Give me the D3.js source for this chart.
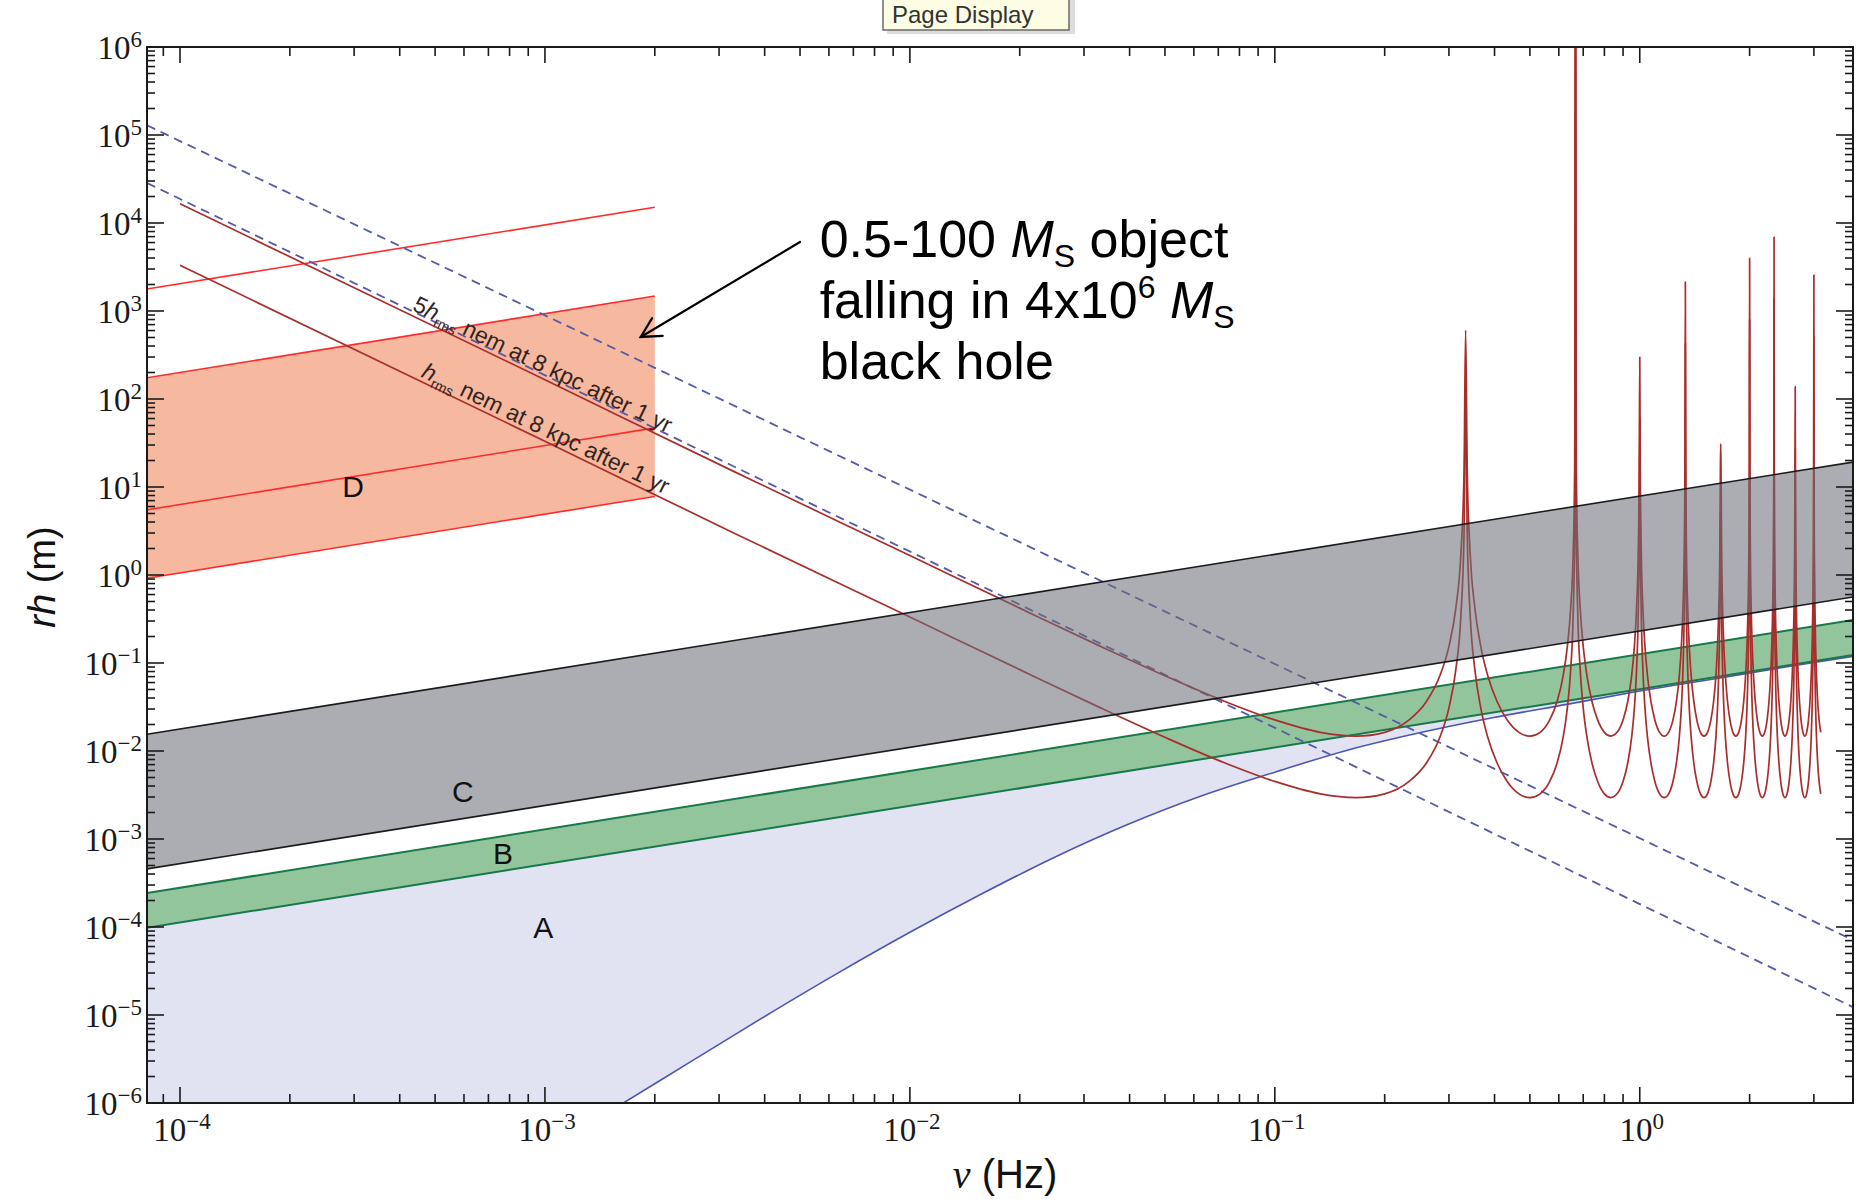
<!DOCTYPE html>
<html>
<head>
<meta charset="utf-8">
<title>rh versus frequency</title>
<script src="https://cdn.jsdelivr.net/npm/d3@7/dist/d3.min.js"></script>
<style>
  html, body { margin: 0; padding: 0; background: #ffffff; }
  svg { display: block; }
</style>
</head>
<body>
<svg id="chart" width="1866" height="1199"></svg>
<script>
// ---------------- data ----------------
// plotted ranges
const nuExtent = [8.12e-5, 3.84];      // Hz
const rhExtent = [1e-6, 1e6];          // m

// tick labels (powers of ten)
const xMajorTicks  = [1e-4, 1e-3, 1e-2, 1e-1, 1];
const xMajorLabels = ["\u22124", "\u22123", "\u22122", "\u22121", "0"];
const yMajorTicks  = [1e-6, 1e-5, 1e-4, 1e-3, 1e-2, 1e-1, 1, 1e1, 1e2, 1e3, 1e4, 1e5, 1e6];
const yMajorLabels = ["\u22126", "\u22125", "\u22124", "\u22123", "\u22122", "\u22121", "0", "1", "2", "3", "4", "5", "6"];

// band D: inspiral tracks, value at the left edge and at 2 mHz
const dTrackNu = [8.12e-5, 2.0e-3];
const dTrack1  = [0.92, 7.8];
const dTrack2  = [5.5, 47];
const dTrack3  = [174, 1480];
const dTrack4  = [1780, 15100];

// band C (grey) and band B (green), edges at both ends of the frequency range
const cUpper = [0.0155, 19.2];
const cLower = [4.57e-4, 0.562];
const bUpper = [2.43e-4, 0.308];
const bLower = [9.8e-5, 0.123];

// dashed reference lines, values at both ends of the frequency range
const dashHigh = [1.29e5, 7.1e-5];
const dashLow  = [2.85e4, 1.23e-5];

// lower edge of region A (blue curve)
const aNu = [0.00158, 0.00251, 0.00398, 0.00631, 0.01, 0.0158, 0.0251, 0.0398, 0.0631,
             0.1, 0.158, 0.251, 0.398, 0.631, 1, 1.58, 2.51, 3.84];
const aRh = [9.1e-7, 2.95e-6, 9.5e-6, 2.95e-5, 8.7e-5, 2.4e-4, 6.3e-4, 1.48e-3, 3.1e-3,
             5.75e-3, 1.02e-2, 1.62e-2, 2.4e-2, 3.39e-2, 4.8e-2, 6.55e-2, 9.0e-2, 0.119];

// h_rms noise at 8 kpc after 1 yr: [frequency (Hz), rh (m)], resonances every 1/3 Hz
const hrmsNoise = [
  [1.0e-4, 3310], [1.0e-3, 33.1], [0.0033, 2.99], [0.01, 0.333], [0.02, 0.0841], [0.0333, 0.0309],
  [0.05, 0.0143], [0.0733, 0.00726], [0.1, 0.00451], [0.1333, 0.00326], [0.1667, 0.00295],
  [0.2, 0.00326], [0.2333, 0.00451], [0.26, 0.00726], [0.2833, 0.0143], [0.3, 0.0309],
  [0.3133, 0.0841], [0.3233, 0.333], [0.33, 2.99], [0.3333, 121],

  [0.3367, 2.99], [0.3433, 0.333], [0.3533, 0.0841], [0.3667, 0.0309], [0.3833, 0.0143],
  [0.4067, 0.00726], [0.4333, 0.00451], [0.4667, 0.00326], [0.5, 0.00295], [0.5333, 0.00326],
  [0.5667, 0.00451], [0.5933, 0.00726], [0.6167, 0.0143], [0.6333, 0.0309], [0.6467, 0.0841],
  [0.6567, 0.333], [0.6633, 2.99], [0.6667, 1e8],

  [0.67, 2.99], [0.6767, 0.333], [0.6867, 0.0841], [0.7, 0.0309], [0.7167, 0.0143],
  [0.74, 0.00726], [0.7667, 0.00451], [0.8, 0.00326], [0.8333, 0.00295], [0.8667, 0.00326],
  [0.9, 0.00451], [0.9267, 0.00726], [0.95, 0.0143], [0.9667, 0.0309], [0.98, 0.0841],
  [0.99, 0.333], [0.9967, 2.99], [1.0, 60],

  [1.0033, 2.99], [1.01, 0.333], [1.02, 0.0841], [1.0333, 0.0309], [1.05, 0.0143],
  [1.0733, 0.00726], [1.1, 0.00451], [1.1333, 0.00326], [1.1667, 0.00295], [1.2, 0.00326],
  [1.2333, 0.00451], [1.26, 0.00726], [1.2833, 0.0143], [1.3, 0.0309], [1.3133, 0.0841],
  [1.3233, 0.333], [1.33, 2.99], [1.3333, 428],

  [1.3367, 2.99], [1.3433, 0.333], [1.3533, 0.0841], [1.3667, 0.0309], [1.3833, 0.0143],
  [1.4067, 0.00726], [1.4333, 0.00451], [1.4667, 0.00326], [1.5, 0.00295], [1.5333, 0.00326],
  [1.5667, 0.00451], [1.5933, 0.00726], [1.6167, 0.0143], [1.6333, 0.0309], [1.6467, 0.0841],
  [1.6567, 0.333], [1.6633, 2.99], [1.6667, 6.2],

  [1.67, 2.99], [1.6767, 0.333], [1.6867, 0.0841], [1.7, 0.0309], [1.7167, 0.0143],
  [1.74, 0.00726], [1.7667, 0.00451], [1.8, 0.00326], [1.8333, 0.00295], [1.8667, 0.00326],
  [1.9, 0.00451], [1.9267, 0.00726], [1.95, 0.0143], [1.9667, 0.0309], [1.98, 0.0841],
  [1.99, 0.333], [1.9967, 2.99], [2.0, 796],

  [2.0033, 2.99], [2.01, 0.333], [2.02, 0.0841], [2.0333, 0.0309], [2.05, 0.0143],
  [2.0733, 0.00726], [2.1, 0.00451], [2.1333, 0.00326], [2.1667, 0.00295], [2.2, 0.00326],
  [2.2333, 0.00451], [2.26, 0.00726], [2.2833, 0.0143], [2.3, 0.0309], [2.3133, 0.0841],
  [2.3233, 0.333], [2.33, 2.99], [2.3333, 1384],

  [2.3367, 2.99], [2.3433, 0.333], [2.3533, 0.0841], [2.3667, 0.0309], [2.3833, 0.0143],
  [2.4067, 0.00726], [2.4333, 0.00451], [2.4667, 0.00326], [2.5, 0.00295], [2.5333, 0.00326],
  [2.5667, 0.00451], [2.5933, 0.00726], [2.6167, 0.0143], [2.6333, 0.0309], [2.6467, 0.0841],
  [2.6567, 0.333], [2.6633, 2.99], [2.6667, 27.6],

  [2.67, 2.99], [2.6767, 0.333], [2.6867, 0.0841], [2.7, 0.0309], [2.7167, 0.0143],
  [2.74, 0.00726], [2.7667, 0.00451], [2.8, 0.00326], [2.8333, 0.00295], [2.8667, 0.00326],
  [2.9, 0.00451], [2.9267, 0.00726], [2.95, 0.0143], [2.9667, 0.0309], [2.98, 0.0841],
  [2.99, 0.333], [2.9967, 2.99], [3.0, 514],

  [3.0033, 2.99], [3.01, 0.333], [3.02, 0.0841], [3.0333, 0.0309], [3.05, 0.0143],
  [3.0733, 0.00726], [3.1, 0.00451], [3.1333, 0.00326]
];
// five times h_rms, as its label states
const fiveHrmsNoise = hrmsNoise.map(([nu, rh]) => [nu, 5 * rh]);

// region letters: [frequency, rh]
const regionLabels = [
  { text: "D", nu: 2.98e-4, rh: 10.2 },
  { text: "C", nu: 5.96e-4, rh: 3.5e-3 },
  { text: "B", nu: 7.67e-4, rh: 6.8e-4 },
  { text: "A", nu: 9.9e-4,  rh: 1.0e-4 }
];

// annotation pointing into band D
const arrowTip  = [1.83e-3, 507];
const arrowTail = [5.0e-3, 6080];
const noteAnchor = [5.66e-3, 4110];

// ---------------- layout ----------------
const plot = { left: 147, right: 1853, top: 47, bottom: 1103 };
const SANS  = "'Liberation Sans', Arial, Helvetica, sans-serif";
const SERIF = "'Liberation Serif', 'Times New Roman', serif";

const svg = d3.select("#chart");

const x = d3.scaleLog().domain(nuExtent).range([plot.left, plot.right]);
const y = d3.scaleLog().domain(rhExtent).range([plot.bottom, plot.top]);

svg.append("defs").append("clipPath").attr("id", "plot-clip")
  .append("rect")
  .attr("x", plot.left).attr("y", plot.top)
  .attr("width", plot.right - plot.left).attr("height", plot.bottom - plot.top);

const g = svg.append("g").attr("clip-path", "url(#plot-clip)");

const straight = d3.line().x(d => x(d[0])).y(d => y(d[1]));
const smooth = d3.line().x(d => x(d[0])).y(d => y(d[1])).curve(d3.curveMonotoneX);
const rounded = d3.line().x(d => x(d[0])).y(d => y(d[1])).curve(d3.curveCatmullRom.alpha(0.5));
const pairs = (nus, vals) => nus.map((n, i) => [n, vals[i]]);

// region A: between the lower edge of band B and the blue curve
const aCurve = pairs(aNu, aRh);
const bLowerPts = pairs(nuExtent, bLower);
{
  const upper = straight(bLowerPts);
  const lower = rounded(aCurve.slice().reverse());
  g.append("path")
    .attr("d", upper + "L" + lower.slice(1) +
      `L${x(nuExtent[0])},${y(aRh[0])}Z`)
    .attr("fill", "#e1e3f3").attr("stroke", "none");
}

// band D fill
g.append("path")
  .attr("d", d3.area()
    .x(d => x(d[0])).y0(d => y(d[1])).y1(d => y(d[2]))
    ([[dTrackNu[0], dTrack1[0], dTrack3[0]], [dTrackNu[1], dTrack1[1], dTrack3[1]]]))
  .attr("fill", "#f6b9a0");

// band B fill
g.append("path")
  .attr("d", d3.area()
    .x(d => x(d[0])).y0(d => y(d[1])).y1(d => y(d[2]))
    ([[nuExtent[0], bLower[0], bUpper[0]], [nuExtent[1], bLower[1], bUpper[1]]]))
  .attr("fill", "#93c59d");

// blue curve bounding A
g.append("path").attr("d", rounded(aCurve))
  .attr("fill", "none").attr("stroke", "#4d55b5").attr("stroke-width", 1.6);

// band B edges
[bUpper, bLower].forEach(v => {
  g.append("path").attr("d", straight(pairs(nuExtent, v)))
    .attr("fill", "none").attr("stroke", "#17784a").attr("stroke-width", 2);
});

// band D tracks
[dTrack1, dTrack2, dTrack3, dTrack4].forEach(v => {
  g.append("path").attr("d", straight(pairs(dTrackNu, v)))
    .attr("fill", "none").attr("stroke", "#ff2b2b").attr("stroke-width", 1.6);
});

// dashed reference lines
[dashHigh, dashLow].forEach(v => {
  g.append("path").attr("d", straight(pairs(nuExtent, v)))
    .attr("fill", "none").attr("stroke", "#555aa6").attr("stroke-width", 1.8)
    .attr("stroke-dasharray", "9,6");
});

// resonant noise curves
[fiveHrmsNoise, hrmsNoise].forEach(series => {
  g.append("path").attr("d", smooth(series))
    .attr("fill", "none").attr("stroke", "#a82e2c").attr("stroke-width", 1.7)
    .attr("stroke-linejoin", "round");
});

// band C, translucent over the curves
g.append("path")
  .attr("d", d3.area()
    .x(d => x(d[0])).y0(d => y(d[1])).y1(d => y(d[2]))
    ([[nuExtent[0], cLower[0], cUpper[0]], [nuExtent[1], cLower[1], cUpper[1]]]))
  .attr("fill", "#6c6f77").attr("fill-opacity", 0.57);
[cUpper, cLower].forEach(v => {
  g.append("path").attr("d", straight(pairs(nuExtent, v)))
    .attr("fill", "none").attr("stroke", "#1b1b1b").attr("stroke-width", 1.6);
});

// region letters
regionLabels.forEach(l => {
  svg.append("text")
    .attr("x", x(l.nu)).attr("y", y(l.rh))
    .attr("text-anchor", "middle").attr("dominant-baseline", "central")
    .attr("font-family", SANS).attr("font-size", 30).attr("fill", "#111")
    .text(l.text);
});

// labels written along the straight part of the noise curves
function labelAlong(series, nuStart, offset, prefix) {
  const a = series[0], b = series[1];
  const ax = x(a[0]), ay = y(a[1]), bx = x(b[0]), by = y(b[1]);
  const ang = Math.atan2(by - ay, bx - ax);
  const px = x(nuStart);
  const py = ay + (by - ay) * (px - ax) / (bx - ax);
  const ox = px + offset * Math.sin(ang), oy = py - offset * Math.cos(ang);
  const t = svg.append("text")
    .attr("transform", `translate(${ox},${oy}) rotate(${ang * 180 / Math.PI})`)
    .attr("font-family", SANS).attr("font-size", 23).attr("fill", "#33231d");
  if (prefix) t.append("tspan").text(prefix);
  t.append("tspan").attr("font-style", "italic").text("h");
  t.append("tspan").attr("font-size", 14).attr("dy", 5).text("rms");
  t.append("tspan").attr("dy", -5).text(" nem at 8 kpc after 1 yr");
}
labelAlong(fiveHrmsNoise, 4.25e-4, 5, "5");
labelAlong(hrmsNoise, 4.5e-4, 4, "");

// ---------------- frame and ticks ----------------
const axes = svg.append("g");
axes.append("rect")
  .attr("x", plot.left).attr("y", plot.top)
  .attr("width", plot.right - plot.left).attr("height", plot.bottom - plot.top)
  .attr("fill", "none").attr("stroke", "#1a1a1a").attr("stroke-width", 2);

function decadeTicks(lo, hi) {
  const out = [];
  const e0 = Math.floor(Math.log10(lo)), e1 = Math.ceil(Math.log10(hi));
  for (let e = e0; e <= e1; e++) {
    for (let m = 1; m <= 9; m++) {
      const v = m * Math.pow(10, e);
      if (v >= lo * 0.9999 && v <= hi * 1.0001) out.push({ v, major: m === 1 });
    }
  }
  return out;
}

decadeTicks(nuExtent[0], nuExtent[1]).forEach(t => {
  const px = x(t.v), len = t.major ? 16 : 9;
  axes.append("line").attr("x1", px).attr("x2", px)
    .attr("y1", plot.bottom).attr("y2", plot.bottom - len)
    .attr("stroke", "#1a1a1a").attr("stroke-width", 1.6);
  axes.append("line").attr("x1", px).attr("x2", px)
    .attr("y1", plot.top).attr("y2", plot.top + len)
    .attr("stroke", "#1a1a1a").attr("stroke-width", 1.6);
});

decadeTicks(rhExtent[0], rhExtent[1]).forEach(t => {
  const py = y(t.v), len = t.major ? 17 : 8;
  axes.append("line").attr("x1", plot.left).attr("x2", plot.left + len)
    .attr("y1", py).attr("y2", py)
    .attr("stroke", "#1a1a1a").attr("stroke-width", 1.6);
  axes.append("line").attr("x1", plot.right).attr("x2", plot.right - len)
    .attr("y1", py).attr("y2", py)
    .attr("stroke", "#1a1a1a").attr("stroke-width", 1.6);
});

function powerLabel(sel, exp) {
  sel.append("tspan").text("10");
  sel.append("tspan").attr("font-size", 23).attr("dy", -12).text(exp);
}

xMajorTicks.forEach((v, i) => {
  const t = axes.append("text")
    .attr("x", x(v) + 2).attr("y", 1141)
    .attr("text-anchor", "middle")
    .attr("font-family", SERIF).attr("font-size", 33).attr("fill", "#1a1a1a");
  powerLabel(t, xMajorLabels[i]);
});

yMajorTicks.forEach((v, i) => {
  const t = axes.append("text")
    .attr("x", 142).attr("y", y(v) + 12)
    .attr("text-anchor", "end")
    .attr("font-family", SERIF).attr("font-size", 33).attr("fill", "#1a1a1a");
  powerLabel(t, yMajorLabels[i]);
});

// axis titles
{
  const t = svg.append("text")
    .attr("transform", "translate(55,577) rotate(-90)")
    .attr("text-anchor", "middle")
    .attr("font-family", SANS).attr("font-size", 38).attr("fill", "#111");
  t.append("tspan").attr("font-style", "italic").text("rh");
  t.append("tspan").text(" (m)");
}
{
  const t = svg.append("text")
    .attr("x", 1005).attr("y", 1188)
    .attr("text-anchor", "middle")
    .attr("font-family", SANS).attr("font-size", 40).attr("fill", "#111");
  t.append("tspan").attr("font-family", SERIF).attr("font-style", "italic").text("\u03bd");
  t.append("tspan").text(" (Hz)");
}

// ---------------- annotation ----------------
{
  const tx = x(arrowTip[0]), ty = y(arrowTip[1]);
  const sx = x(arrowTail[0]), sy = y(arrowTail[1]);
  const ang = Math.atan2(sy - ty, sx - tx);
  const wing = 22, spread = 28 * Math.PI / 180;
  const ann = svg.append("g").attr("stroke", "#000").attr("stroke-width", 2.2)
    .attr("fill", "none").attr("stroke-linecap", "round");
  ann.append("line").attr("x1", sx).attr("y1", sy).attr("x2", tx).attr("y2", ty);
  ann.append("polyline").attr("points", [
    [tx + wing * Math.cos(ang + spread), ty + wing * Math.sin(ang + spread)],
    [tx, ty],
    [tx + wing * Math.cos(ang - spread), ty + wing * Math.sin(ang - spread)]
  ].map(p => p.join(",")).join(" "));

  const nx = x(noteAnchor[0]), ny = y(noteAnchor[1]);
  const lines = [
    [["0.5-100 ", {}], ["M", { italic: true }], ["S", { sub: true }], [" object", {}]],
    [["falling in 4x10", {}], ["6", { sup: true }], [" ", {}], ["M", { italic: true }], ["S", { sub: true }]],
    [["black hole", {}]]
  ];
  lines.forEach((parts, i) => {
    const t = svg.append("text")
      .attr("x", nx).attr("y", ny + i * 61)
      .attr("font-family", SANS).attr("font-size", 52).attr("fill", "#000");
    let shift = 0;
    parts.forEach(([str, opt]) => {
      const target = opt.sub ? 10 : opt.sup ? -20 : 0;
      const s = t.append("tspan").attr("dy", target - shift).text(str);
      shift = target;
      if (opt.italic) s.attr("font-style", "italic");
      if (opt.sub || opt.sup) s.attr("font-size", 32);
    });
  });
}

// small pop-up box at the top edge
{
  const tip = svg.append("g");
  tip.append("rect").attr("x", 887).attr("y", -10).attr("width", 188).attr("height", 44)
    .attr("fill", "#cfcfcf").attr("opacity", 0.7);
  tip.append("rect").attr("x", 883).attr("y", -10).attr("width", 186).attr("height", 40)
    .attr("fill", "#fdfde3").attr("stroke", "#6a6a6a").attr("stroke-width", 1.5);
  tip.append("text").attr("x", 892).attr("y", 23)
    .attr("font-family", SANS).attr("font-size", 24).attr("fill", "#333")
    .text("Page Display");
}
</script>
</body>
</html>
